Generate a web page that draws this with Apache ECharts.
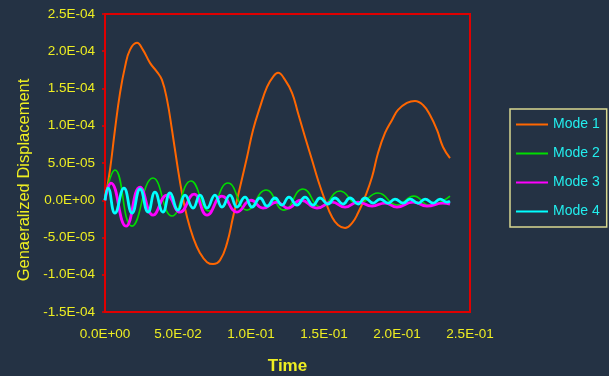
<!DOCTYPE html>
<html>
<head>
<meta charset="utf-8">
<script src="https://cdn.jsdelivr.net/npm/echarts@6/dist/echarts.min.js"></script>
<style>
html,body{margin:0;padding:0;background:#243244;}
#chart{width:609px;height:376px;}
</style>
</head>
<body>
<div id="chart"></div>
<script>
const seriesNames = ['Mode 1', 'Mode 2', 'Mode 3', 'Mode 4'];
const xTicks = [0, 0.05, 0.10, 0.15, 0.20, 0.25];
const yTicks = [-1.5e-4, -1.0e-4, -5.0e-5, 0, 5.0e-5, 1.0e-4, 1.5e-4, 2.0e-4, 2.5e-4];

const mode1Time = [0, 0.0034, 0.0068, 0.0103, 0.0137, 0.0171, 0.0219, 0.0260, 0.0308, 0.0356, 0.0390, 0.0425, 0.0459, 0.0493, 0.0527, 0.0562, 0.0603, 0.0651, 0.0699, 0.0740, 0.0788, 0.0836, 0.0877, 0.0925, 0.0973, 0.1014, 0.1062, 0.1110, 0.1151, 0.1185, 0.1233, 0.1281, 0.1322, 0.1370, 0.1418, 0.1459, 0.1507, 0.1555, 0.1596, 0.1644, 0.1692, 0.1733, 0.1781, 0.1829, 0.1870, 0.1918, 0.1966, 0.2007, 0.2068, 0.2123, 0.2178, 0.2226, 0.2274, 0.2315, 0.2363];
const mode1Value = [0, 4.06e-5, 9.43e-5, 1.441e-4, 1.790e-4, 2.019e-4, 2.113e-4, 2.019e-4, 1.844e-4, 1.723e-4, 1.615e-4, 1.347e-4, 9.43e-5, 5.0e-5, 9.7e-6, -2.26e-5, -4.95e-5, -7.10e-5, -8.31e-5, -8.57e-5, -8.04e-5, -5.75e-5, -2.26e-5, 1.77e-5, 5.81e-5, 9.43e-5, 1.253e-4, 1.521e-4, 1.656e-4, 1.710e-4, 1.615e-4, 1.441e-4, 1.172e-4, 8.49e-5, 5.40e-5, 2.71e-5, 0, -2.26e-5, -3.33e-5, -3.74e-5, -3.06e-5, -1.72e-5, 4.3e-6, 3.12e-5, 6.34e-5, 9.03e-5, 1.078e-4, 1.212e-4, 1.306e-4, 1.333e-4, 1.279e-4, 1.145e-4, 9.43e-5, 7.15e-5, 5.67e-5];

const mode2Time = [0, 0.0068, 0.0185, 0.0329, 0.0459, 0.0589, 0.0712, 0.0842, 0.0973, 0.1103, 0.1226, 0.1356, 0.1479, 0.1610, 0.1733, 0.1870, 0.2000, 0.2116, 0.2219, 0.2363];
const mode2Value = [0, 4.06e-5, -3.47e-5, 2.98e-5, -2.12e-5, 2.58e-5, -1.45e-5, 2.31e-5, -1.32e-5, 1.37e-5, -1.32e-5, 1.51e-5, -9.1e-6, 1.24e-5, -5.1e-6, 9.7e-6, -6.5e-6, 5.6e-6, -6.5e-6, 5.6e-6];

const mode3Time = [0, 0.0041, 0.0144, 0.0240, 0.0329, 0.0425, 0.0514, 0.0610, 0.0699, 0.0801, 0.0904, 0.1000, 0.1082, 0.1178, 0.1253, 0.1342, 0.1452, 0.1555, 0.1644, 0.1733, 0.1829, 0.1918, 0.2000, 0.2110, 0.2205, 0.2315, 0.2363];
const mode3Value = [0, 2.31e-5, -3.47e-5, 1.77e-5, -1.99e-5, 7.0e-6, -1.59e-5, 8.3e-6, -1.99e-5, 5.6e-6, -1.59e-5, 0, -1.05e-5, -2.4e-6, -1.05e-5, 0, -1.05e-5, -2.4e-6, -9.1e-6, -2.4e-6, -7.8e-6, -3.8e-6, -9.1e-6, -2.4e-6, -7.8e-6, -3.8e-6, -5.1e-6];

const mode4Time = [0, 0.0021, 0.0068, 0.0130, 0.0185, 0.0240, 0.0295, 0.0342, 0.0397, 0.0445, 0.0500, 0.0548, 0.0603, 0.0651, 0.0699, 0.0753, 0.0801, 0.0856, 0.0904, 0.0959, 0.1007, 0.1062, 0.1110, 0.1164, 0.1212, 0.1260, 0.1315, 0.1370, 0.1425, 0.1473, 0.1527, 0.1575, 0.1630, 0.1678, 0.1733, 0.1781, 0.1836, 0.1884, 0.1938, 0.1986, 0.2041, 0.2089, 0.2144, 0.2192, 0.2247, 0.2295, 0.2342, 0.2363];
const mode4Value = [0, 1.64e-5, -1.72e-5, 1.64e-5, -1.72e-5, 1.51e-5, -1.59e-5, 1.10e-5, -1.59e-5, 9.7e-6, -1.32e-5, 7.0e-6, -1.05e-5, 7.0e-6, -1.05e-5, 7.0e-6, -9.1e-6, 7.0e-6, -9.1e-6, 4.3e-6, -9.1e-6, 3.0e-6, -7.8e-6, 3.0e-6, -6.5e-6, 4.3e-6, -6.5e-6, 4.3e-6, -6.5e-6, 3.0e-6, -5.1e-6, 3.0e-6, -5.1e-6, 3.0e-6, -5.1e-6, 3.0e-6, -3.8e-6, 1.6e-6, -3.8e-6, 1.6e-6, -3.8e-6, 1.6e-6, -3.8e-6, 1.6e-6, -3.8e-6, 1.6e-6, -2.4e-6, -1.1e-6];

function zip(t, v) { return t.map((x, i) => [x, v[i]]); }
function fmt(v) {
  if (Math.abs(v) < 1e-12) v = 0;
  const s = v.toExponential(1).split('e');
  const e = parseInt(s[1], 10);
  const a = Math.abs(e);
  return s[0] + 'E' + (e < 0 ? '-' : '+') + (a < 10 ? '0' : '') + a;
}

const colors = ['#ff6600', '#00dd00', '#ff00ff', '#00ffff'];
const widths = [2, 1.6, 2.8, 2.8];
const datas = [zip(mode1Time, mode1Value), zip(mode2Time, mode2Value), zip(mode3Time, mode3Value), zip(mode4Time, mode4Value)];
const smooths = [0.45, 0.5, 0.5, 0.5];

const chart = echarts.init(document.getElementById('chart'));
const yellow = '#eeee22';
const font = 'Liberation Sans, Arial, sans-serif';
chart.setOption({
  backgroundColor: '#243244',
  animation: false,
  grid: {
    left: 105, right: 139, top: 14, bottom: 64,
    outerBoundsMode: 'none',
    containLabel: false,
    show: true, borderColor: '#e00000', borderWidth: 2, backgroundColor: 'transparent'
  },
  legend: {
    orient: 'vertical',
    left: 510, top: 109,
    padding: [8, 7, 8, 6],
    icon: 'rect',
    itemWidth: 32, itemHeight: 2, itemGap: 14,
    borderColor: '#d8d890', borderWidth: 1.5,
    textStyle: { color: '#22eeee', fontFamily: font, fontSize: 14, lineHeight: 15 },
    data: seriesNames
  },
  graphic: [{
    type: 'text',
    x: 24, y: 180,
    rotation: Math.PI / 2,
    style: {
      text: 'Genaeralized Displacement',
      fill: yellow,
      font: '16.5px "Liberation Sans", Arial, sans-serif',
      textAlign: 'center',
      textVerticalAlign: 'middle'
    }
  }],
  xAxis: {
    type: 'value',
    min: xTicks[0], max: xTicks[xTicks.length - 1], interval: 0.05,
    name: 'Time', nameLocation: 'middle', nameGap: 46,
    nameTextStyle: { color: yellow, fontWeight: 'bold', fontSize: 17, fontFamily: font },
    axisLine: { show: true, onZero: false, lineStyle: { color: '#e00000', width: 2 } },
    axisTick: { show: false },
    splitLine: { show: false },
    axisLabel: { color: yellow, fontSize: 13.5, margin: 15, fontFamily: font, formatter: fmt }
  },
  yAxis: {
    type: 'value',
    min: yTicks[0], max: yTicks[yTicks.length - 1], interval: 5e-5,
    axisLine: { show: true, onZero: false, lineStyle: { color: '#e00000', width: 2 } },
    axisTick: { show: true, inside: false, length: 3, lineStyle: { color: '#e00000', width: 1.5 } },
    splitLine: { show: false },
    axisLabel: { color: yellow, fontSize: 13.5, margin: 10, fontFamily: font, formatter: fmt }
  },
  series: seriesNames.map((n, i) => ({
    name: n,
    type: 'line',
    data: datas[i],
    symbol: 'none',
    smooth: smooths[i],
    color: colors[i],
    lineStyle: { color: colors[i], width: widths[i] }
  }))
});
</script>
</body>
</html>
